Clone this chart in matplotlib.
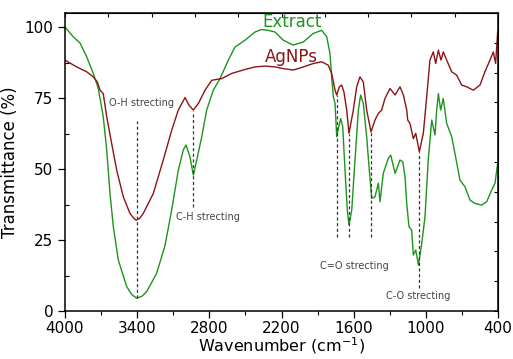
import numpy as np
import matplotlib
matplotlib.use("Agg")
import matplotlib.pyplot as plt

GREEN = "#1e931e"
RED = "#8b1414"
INK = "#333333"

# Extract spectrum (wavenumber cm-1, transmittance %)
ext_wn = [4000, 3931, 3875, 3820, 3765, 3723, 3682, 3653, 3626, 3598, 3557,
          3487, 3445, 3404, 3360, 3321, 3238, 3169, 3113, 3058, 3017, 2994, 2961, 2933,
          2905, 2863, 2822, 2767, 2711, 2642, 2587, 2504, 2420, 2365, 2312,
          2254, 2185, 2102, 2019, 1936, 1866, 1824, 1797, 1783, 1769, 1755,
          1741, 1728, 1708, 1691, 1672, 1653, 1639, 1616, 1589, 1561, 1542,
          1520, 1492, 1470, 1450, 1423, 1395, 1381, 1354, 1312, 1292, 1256,
          1215, 1192, 1173, 1159, 1140, 1118, 1104, 1084, 1062, 1034, 1007,
          980, 951, 924, 910, 896, 877, 855, 827, 785, 758, 716, 675, 633,
          592, 536, 494, 453, 425, 403]
ext_t = [100, 96.6, 94.4, 89.6, 83.7, 78.4, 68.4, 56.7, 41.4, 29.7, 18,
         8.6, 5.8, 4.5, 5.2, 6.8, 13.3, 23, 35.6, 49.6, 56.7, 58.5, 54.3, 47.9,
         53.2, 61.4, 70.8, 77.8, 81.9, 88.4, 93, 95.4, 98.3, 99.2, 98.9,
         98.3, 95.4, 93.7, 94.8, 97.8, 98.9, 96.6, 90.7, 82.5, 75.4, 73.1,
         61.4, 64.3, 67.8, 64.9, 49.6, 35.6, 30.3, 35.6, 53.2, 70.8, 76.1,
         73.1, 61.4, 49.6, 39.7, 40.2, 45, 38.5, 48.5, 53.8, 54.9, 48.5,
         53.2, 52.6, 47.3, 37.9, 29.7, 28.5, 19.7, 21.5, 16.2, 23.8, 33.2,
         53.2, 67.3, 62, 70.8, 76.6, 70.8, 74.9, 66.1, 61.4, 55.5, 46.1, 43.8, 39.1,
         37.9, 37.3, 38.5, 42.6, 45, 52]

# AgNPs spectrum
ag_wn = [4000, 3903, 3820, 3765, 3731, 3709, 3682, 3653, 3612, 3570, 3515,
         3460, 3430, 3410, 3380, 3349, 3266, 3183, 3113, 3058, 3002, 2969, 2933, 2891,
         2836, 2780, 2697, 2614, 2504, 2420, 2337, 2254, 2185, 2102, 2019,
         1936, 1866, 1811, 1783, 1755, 1741, 1719, 1700, 1681, 1658, 1639,
         1603, 1575, 1548, 1520, 1492, 1456, 1423, 1395, 1367, 1340, 1298,
         1256, 1215, 1187, 1159, 1151, 1132, 1104, 1084, 1054, 1021, 993,
         966, 938, 918, 896, 874, 855, 827, 785, 744, 702, 661, 606, 550,
         509, 467, 439, 420, 403]
ag_t = [88.4, 86, 84.3, 82.5, 80.7, 77.8, 76.6, 68.4, 59, 49.6, 40.2,
        34.4, 32.8, 32, 32.6, 34.4, 41.4, 53.2, 63.7, 70.8, 75.2, 72.5, 70.8, 73.1,
        77.8, 81.3, 81.9, 83.7, 85.1, 86, 86.3, 86, 85.4, 84.9, 86,
        87.2, 87.8, 86.6, 83.7, 77.8, 76.1, 79, 79.6, 77.2, 70.8, 62.6,
        70.8, 79, 82.5, 80.7, 70.8, 63.1, 67.3, 69.6, 70.8, 74.9, 78.4,
        76.1, 79, 76.1, 70.8, 67.3, 66.1, 60.7, 62.6, 56.1, 62.6, 75.5,
        88.4, 91.3, 87.2, 91.9, 88.4, 91.3, 88.4, 84.3, 83.1, 79.6, 79, 77.8, 79.6,
        84.3, 88.4, 91.3, 87.2, 98.3]

# band markers: (wavenumber, top, bottom)
bands = [(3400, 67, 4.5), (2933, 70.5, 36.5), (1741, 76, 26),
         (1639, 62.5, 26), (1456, 63, 26), (1057, 56, 8)]
band_labels = [("O-H strecting", 3360, 73.2), ("C-H strecting", 2810, 33),
               ("C=O strecting", 1597, 15.8), ("C-O strecting", 1065, 5.3)]

plt.rcParams.update({"font.family": "DejaVu Sans"})
fig = plt.figure(figsize=(5.13, 3.59), dpi=100)
ax = fig.add_axes([0.1267, 0.1337, 0.8441, 0.8301])

ax.plot(ext_wn, ext_t, color=GREEN, lw=1.0)
ax.plot(ag_wn, ag_t, color=RED, lw=1.0)

for wn, top, bot in bands:
    ax.plot([wn, wn], [bot, top], color=INK, lw=0.9, ls=(0, (2.5, 2)))
for txt, x, y in band_labels:
    ax.text(x, y, txt, fontsize=7, color="#444444", ha="center", va="center")

ax.text(2113, 101.8, "Extract", color=GREEN, fontsize=12, ha="center", va="center")
ax.text(2121, 89.4, "AgNPs", color=RED, fontsize=12, ha="center", va="center")

ax.set_xlim(4000, 400)
ax.set_ylim(0, 105)
ax.set_xticks(np.arange(4000, 399, -600))
ax.set_xticks(np.arange(3700, 399, -600), minor=True)
ax.set_yticks([0, 25, 50, 75, 100])
ax.set_yticks([12.5, 37.5, 62.5, 87.5], minor=True)
ax.tick_params(axis="both", which="major", direction="out", length=5,
               labelsize=11, width=0.9)
ax.tick_params(axis="x", which="major", pad=2)
ax.tick_params(axis="x", which="minor", direction="out", length=3, width=0.8)
ax.tick_params(axis="y", which="minor", direction="in", length=3, width=0.8)
for s in ax.spines.values():
    s.set_linewidth(1.1)

top = ax.secondary_xaxis("top")
top.set_xticks(np.arange(4000, 399, -360))
top.tick_params(direction="in", length=3, labeltop=False, width=0.8)
right = ax.secondary_yaxis("right")
right.set_yticks(np.arange(0, 105.1, 10.5))
right.tick_params(direction="in", length=3, labelright=False, width=0.8)

ax.set_xlabel("Wavenumber (cm$^{-1}$)", fontsize=11.5, labelpad=0)
ax.set_ylabel("Transmittance (%)", fontsize=12, labelpad=4)

fig.savefig("out.png", dpi=100, facecolor="white")
